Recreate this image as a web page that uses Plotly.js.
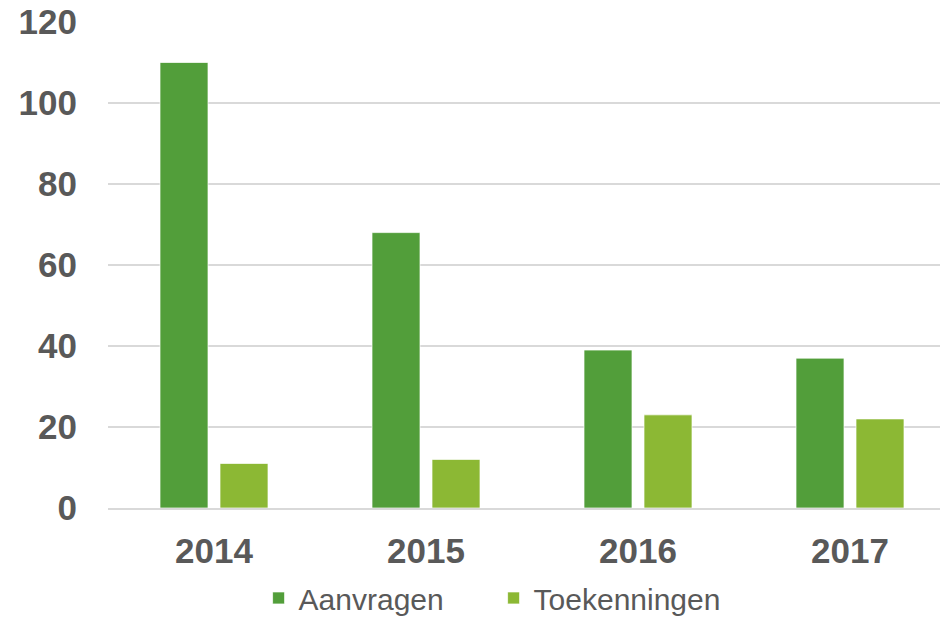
<!DOCTYPE html>
<html>
<head>
<meta charset="utf-8">
<script src="https://cdn.plot.ly/plotly-3.0.1.min.js"></script>
<style>html,body{margin:0;padding:0;background:#fff;}#chart{width:940px;height:619px;}</style>
</head>
<body>
<div id="chart"></div>
<script>
const years = ['2014', '2015', '2016', '2017'];
const aanvragen = [110, 68, 39, 37];
const toekenningen = [11, 12, 23, 22];
const seriesNames = ['Aanvragen', 'Toekenningen'];
const yTicks = [0, 20, 40, 60, 80, 100, 120];

const font = 'Liberation Sans, Arial, sans-serif';
const traces = [
  {type: 'bar', name: seriesNames[0], x: years, y: aanvragen,
   marker: {color: '#529E3A', line: {color: 'rgba(255,255,255,0.7)', width: 1}}},
  {type: 'bar', name: seriesNames[1], x: years, y: toekenningen,
   marker: {color: '#8CB834', line: {color: 'rgba(255,255,255,0.7)', width: 1}}}
];
const layout = {
  width: 940, height: 619,
  margin: {l: 108, r: 0, t: 22, b: 111},
  paper_bgcolor: '#fff', plot_bgcolor: '#fff',
  barmode: 'group', bargap: 0.434, bargroupgap: 0.2,
  showlegend: true,
  legend: {orientation: 'h', x: 0.181, xanchor: 'left', yref: 'container', y: 0.034, yanchor: 'middle',
           entrywidth: 190, entrywidthmode: 'pixels',
           font: {family: font, size: 30, color: '#595959'}, traceorder: 'normal'},
  xaxis: {type: 'category', range: [-0.5, 3.4245], showgrid: false,
          showline: true, linecolor: '#D9D9D9', linewidth: 2, ticks: '',
          tickfont: {family: font, size: 35, color: '#595959', weight: 'bold'},
          ticklabelstandoff: 11, fixedrange: true},
  yaxis: {range: [0, 120], tickvals: yTicks, showgrid: true, gridcolor: '#D9D9D9', gridwidth: 2,
          zeroline: false, showline: false, ticks: '',
          tickfont: {family: font, size: 35, color: '#595959', weight: 'bold'},
          ticklabelstandoff: 30, fixedrange: true}
};
Plotly.newPlot('chart', traces, layout, {displayModeBar: false, staticPlot: true});
</script>
</body>
</html>
